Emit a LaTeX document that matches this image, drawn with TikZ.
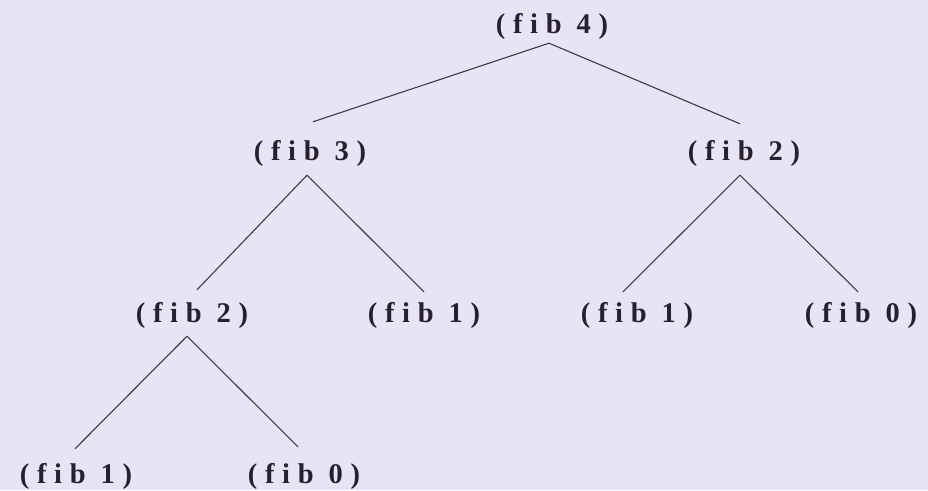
\documentclass[tikz,border=0pt]{standalone}
\usepackage{fontspec}
\newfontfamily\fibfont[LetterSpace=27]{Liberation Serif Bold}
\definecolor{bgcol}{RGB}{230,228,245}
\definecolor{txtcol}{RGB}{40,32,45}
\definecolor{lncol}{RGB}{60,58,70}
\newcommand{\fibl}[1]{(fib\hspace{15pt}#1)}
\begin{document}
\begin{tikzpicture}[x=1pt,y=-1pt,
  call/.style={font=\fibfont\fontsize{28.5}{32}\selectfont, text=txtcol, inner xsep=0pt, inner ysep=0pt,
    text height=20pt, text depth=6pt, anchor=center},
  edge/.style={draw=lncol, line width=1.1pt}]
\fill[bgcol] (0,0) rectangle (928,490);
\useasboundingbox (0,0) rectangle (928,490);
\node[call] (f4) at (552,26) {\fibl{4}};
\node[call] (f3) at (310,153) {\fibl{3}};
\node[call] (f2r) at (744,153) {\fibl{2}};
\node[call] (f2l) at (192,315) {\fibl{2}};
\node[call] (f1a) at (424,315) {\fibl{1}};
\node[call] (f1b) at (637,315) {\fibl{1}};
\node[call] (f0a) at (861,315) {\fibl{0}};
\node[call] (f1c) at (76,476) {\fibl{1}};
\node[call] (f0b) at (304,476) {\fibl{0}};
\draw[edge] ([xshift=-3pt,yshift=-4pt]f4.south) -- ([xshift=3pt,yshift=18pt]f3.north);
\draw[edge] ([xshift=-3pt,yshift=-4pt]f4.south) -- ([xshift=-4pt,yshift=16pt]f2r.north);
\draw[edge] ([xshift=-3pt,yshift=-9pt]f3.south) -- ([xshift=5pt,yshift=12pt]f2l.north);
\draw[edge] ([xshift=-3pt,yshift=-9pt]f3.south) -- ([yshift=10pt]f1a.north);
\draw[edge] ([xshift=-4pt,yshift=-9pt]f2r.south) -- ([xshift=-14pt,yshift=10pt]f1b.north);
\draw[edge] ([xshift=-4pt,yshift=-9pt]f2r.south) -- ([xshift=-3pt,yshift=10pt]f0a.north);
\draw[edge] ([xshift=-5pt,yshift=-8pt]f2l.south) -- ([xshift=-1pt,yshift=14pt]f1c.north);
\draw[edge] ([xshift=-5pt,yshift=-8pt]f2l.south) -- ([xshift=-6pt,yshift=16pt]f0b.north);
\end{tikzpicture}
\end{document}
